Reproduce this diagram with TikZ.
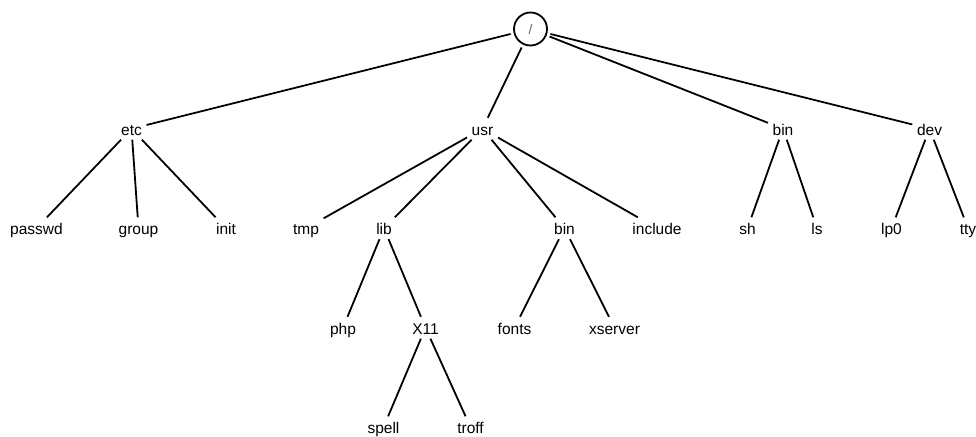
\documentclass[tikz,border=0pt]{standalone}
\usepackage{fontspec}
\setmainfont{Liberation Sans}
\begin{document}
\begin{tikzpicture}[x=1pt,y=-1pt,
  lbl/.style={anchor=base,font=\fontsize{15.5}{18}\selectfont,text height=12.5pt,text depth=0pt,inner xsep=4.5pt,inner ysep=4.5pt},
  rootnode/.style={circle,draw,line width=1.8pt,minimum size=33pt,inner sep=0pt,outer sep=4pt,
    font=\fontsize{14}{16}\selectfont,text=black!60},
  edge/.style={line width=1.8pt}]
\useasboundingbox (0,0) rectangle (976,436);
\node[rootnode] (root) at (530.5,29) {/};
% level 1
\node[lbl] (etc) at (131.5,135) {etc};
\node[lbl] (usr) at (482.5,135) {usr};
\node[lbl] (bin) at (783,135) {bin};
\node[lbl] (dev) at (929.5,135) {dev};
% level 2
\node[lbl] (passwd) at (36.5,234.5) {passwd};
\node[lbl] (group) at (138.5,234.5) {group};
\node[lbl] (init) at (226,234.5) {init};
\node[lbl] (tmp) at (306,234.5) {tmp};
\node[lbl] (lib) at (384,234.5) {lib};
\node[lbl] (ubin) at (564.5,234.5) {bin};
\node[lbl] (include) at (657,234.5) {include};
\node[lbl] (sh) at (747.5,234.5) {sh};
\node[lbl] (ls) at (817,234.5) {ls};
\node[lbl] (lp0) at (891.5,234.5) {lp0};
\node[lbl] (tty) at (968,234.5) {tty};
% level 3
\node[lbl] (php) at (343,334) {php};
\node[lbl] (x11) at (425.5,334) {X11};
\node[lbl] (fonts) at (514.5,334) {fonts};
\node[lbl] (xserver) at (614.5,334) {xserver};
% level 4
\node[lbl] (spell) at (383.5,433.5) {spell};
\node[lbl] (troff) at (470.5,433.5) {troff};
% edges
\foreach \a/\b in {root/etc,root/usr,root/bin,root/dev,
  etc/passwd,etc/group,etc/init,
  usr/tmp,usr/lib,usr/ubin,usr/include,
  bin/sh,bin/ls,dev/lp0,dev/tty,
  lib/php,lib/x11,ubin/fonts,ubin/xserver,
  x11/spell,x11/troff}
  \draw[edge] (\a) -- (\b);
\end{tikzpicture}
\end{document}
